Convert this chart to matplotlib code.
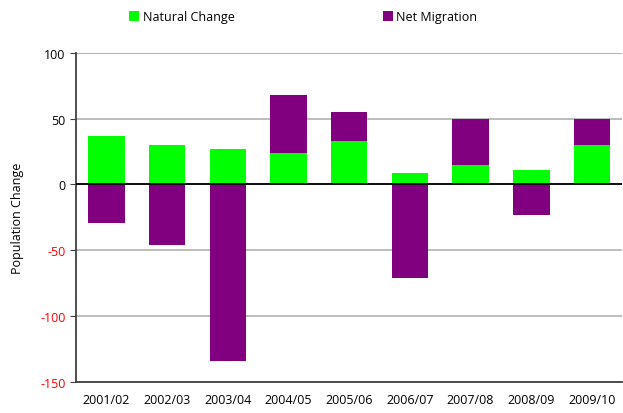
import numpy as np
import matplotlib.pyplot as plt

plt.rcParams['font.family'] = ['Open Sans', 'DejaVu Sans']
plt.rcParams['axes.unicode_minus'] = False

# Population change components by year
years = ['2001/02', '2002/03', '2003/04', '2004/05', '2005/06',
         '2006/07', '2007/08', '2008/09', '2009/10']
natural_change = [37, 30, 27, 24, 33, 9, 15, 11, 30]
net_migration = [-29, -46, -134, 44, 22, -71, 35, -23, 20]

green = '#00ff00'
purple = '#800080'

fig = plt.figure(figsize=(6.23, 4.14), dpi=100)
ax = fig.add_axes([0.122, 0.075, 0.877, 0.795])

x = np.arange(len(years))
nc = np.array(natural_change)
nm = np.array(net_migration)

# positive migration sits on top of natural change, negative hangs from zero
bottoms = np.where(nm > 0, nc, 0)

ax.bar(x, nc, width=0.6, color=green, label='Natural Change', zorder=3)
ax.bar(x, nm, width=0.6, bottom=bottoms, color=purple, label='Net Migration', zorder=3)

ax.set_ylim(-150, 100)
ax.set_xlim(-0.5, len(years) - 0.5)
ax.set_yticks([-150, -100, -50, 0, 50, 100])
ax.set_xticks(x)
ax.set_xticklabels(years, fontsize=9)
ax.tick_params(axis='x', length=0, pad=8)
ax.tick_params(axis='y', labelsize=9, length=4, color='#404040')
for lab in ax.get_yticklabels():
    if lab.get_text().startswith(('-', '\u2212')):
        lab.set_color('red')

ax.grid(axis='y', color='#b8b8b8', linewidth=1.3, zorder=0)
ax.axhline(0, color='black', linewidth=1.3, zorder=4)
ax.axhline(100, color='#808080', linewidth=1.3, zorder=1)

for side in ['top', 'right']:
    ax.spines[side].set_visible(False)
ax.spines['left'].set_color('#404040')
ax.spines['left'].set_linewidth(1.3)
ax.spines['bottom'].set_color('#404040')
ax.spines['bottom'].set_linewidth(1.3)

ax.set_ylabel('Population Change', fontsize=9)
ax.yaxis.set_label_coords(-0.095, 0.5)

fig.legend(loc='upper center', bbox_to_anchor=(0.487, 1.0), ncol=2,
           frameon=False, fontsize=9, columnspacing=11.8, handlelength=0.8,
           handleheight=0.8, handletextpad=0.3)

fig.savefig('out.png', dpi=100)
